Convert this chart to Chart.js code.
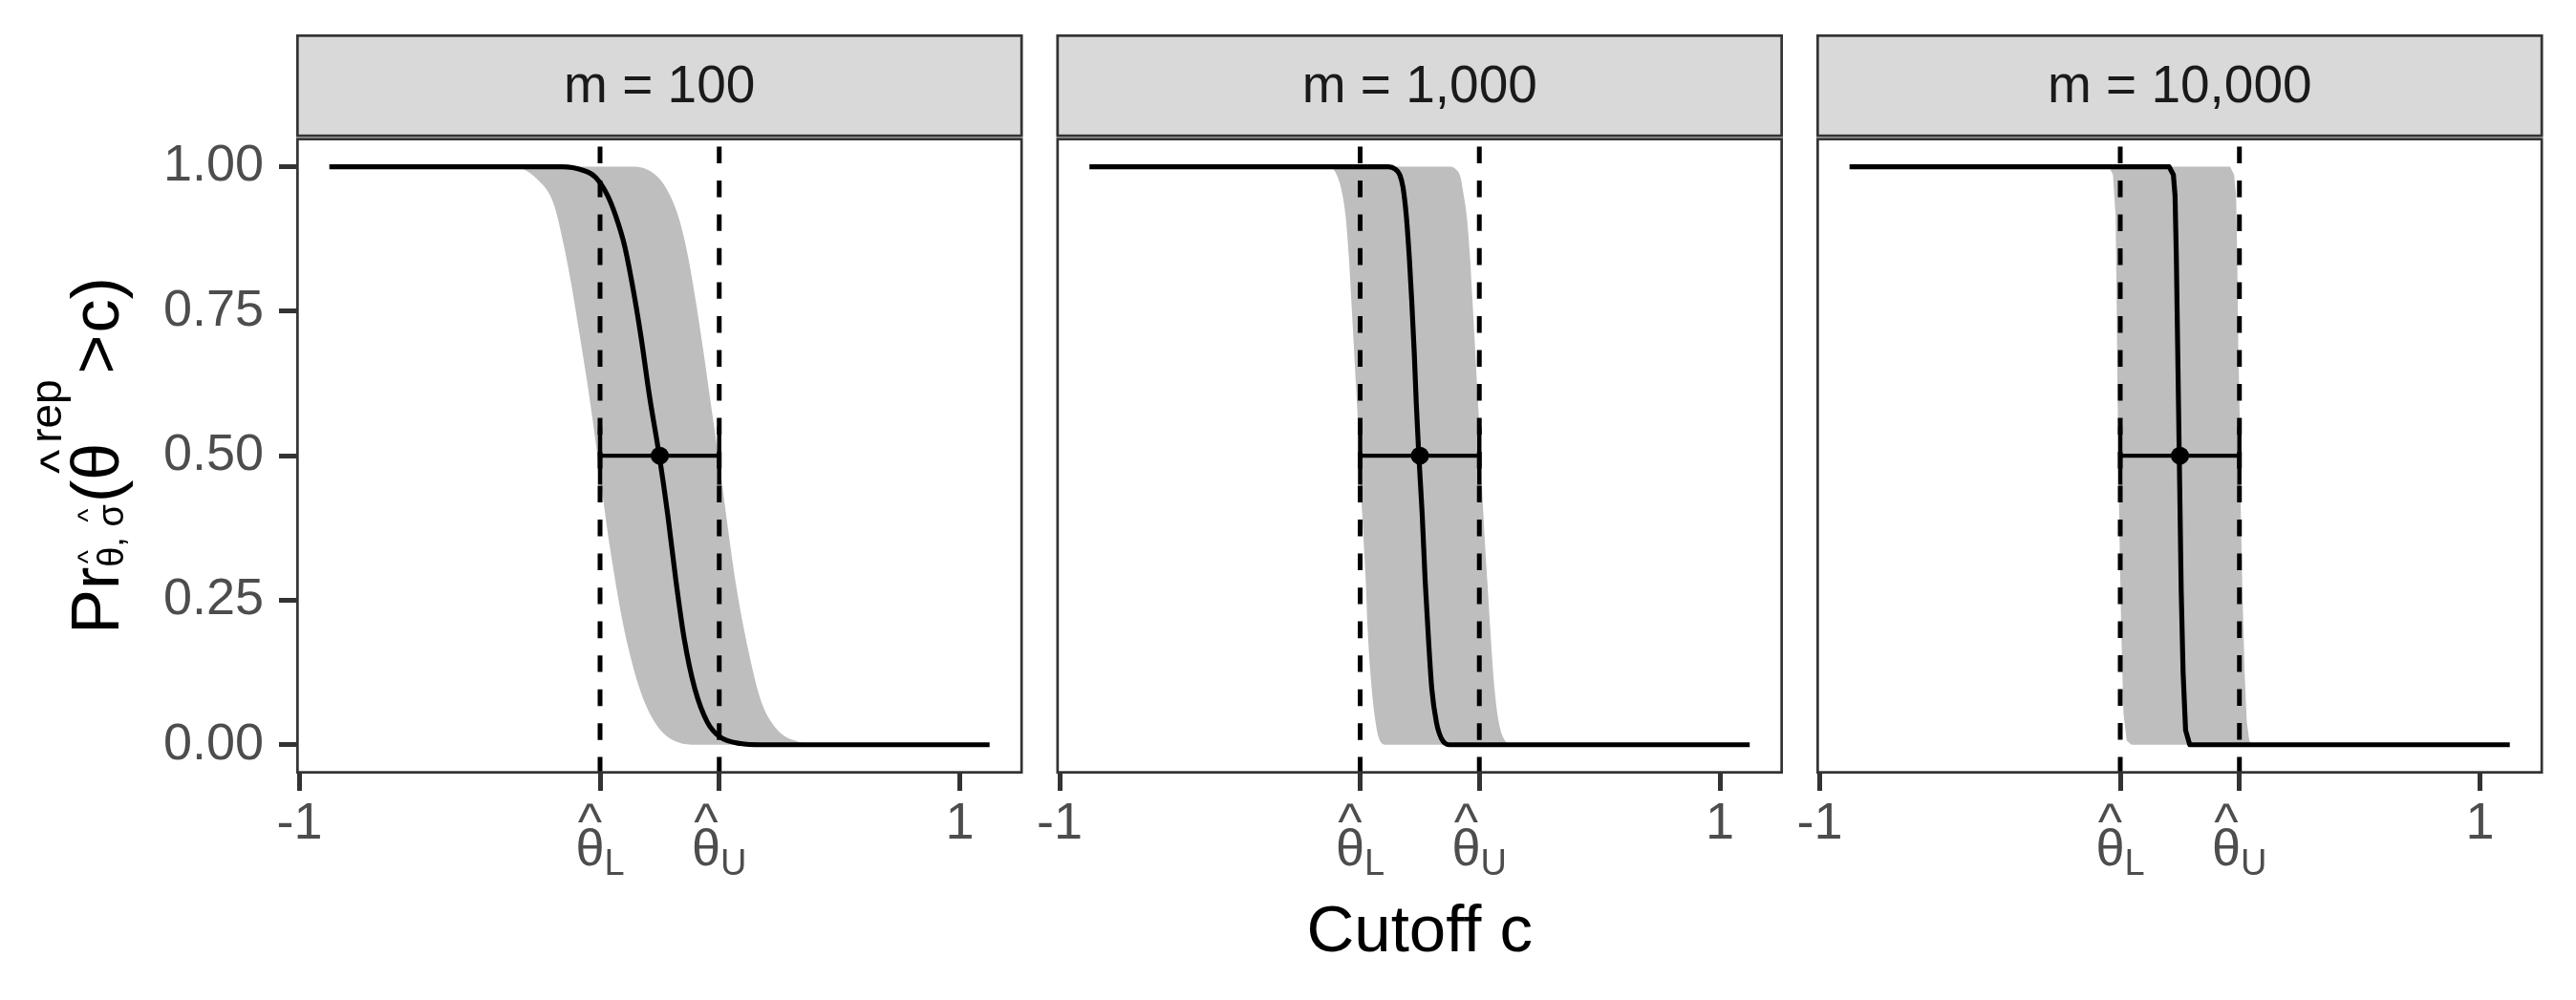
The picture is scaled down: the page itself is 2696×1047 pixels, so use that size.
<!DOCTYPE html>
<html lang="en">
<head>
  <meta charset="UTF-8">
  <title>Pr(theta rep > c) by m</title>
  <script src="https://cdn.jsdelivr.net/npm/chart.js"></script>
  <style>
    body { margin: 0; background: #fff; }
    #wrap { position: relative; width: 2696px; height: 1047px; }
    #wrap canvas { position: absolute; left: 0; top: 0; }
  </style>
</head>
<body>
<div id="wrap">
  <canvas id="c0" width="2696" height="1047"></canvas>
  <canvas id="c1" width="2696" height="1047"></canvas>
  <canvas id="c2" width="2696" height="1047"></canvas>
</div>
<script>
// facet labels
const stripLabels = ['m = 100', 'm = 1,000', 'm = 10,000'];

// interval and point estimate (same in every facet)
const thetaL = -0.09;
const thetaU = 0.271;
const thetaHat = 0.091;
const capHalf = 0.05;

// axis ticks
const yTicks = [0, 0.25, 0.5, 0.75, 1];
const xTicks = [-1, thetaL, thetaU, 1];
const xTickLabels = ['-1', '', '', '1'];
const thetaSubs = ['L', 'U'];

// Pr(theta^rep > c), [c, Pr]
const curve100 = [[-0.91, 1], [-0.205, 1], [-0.142, 0.994], [-0.104, 0.982], [-0.067, 0.95], [-0.042, 0.914],
  [-0.016, 0.864], [0.009, 0.792], [0.034, 0.706], [0.059, 0.606], [0.09, 0.498], [0.115, 0.398], [0.14, 0.283],
  [0.165, 0.183], [0.197, 0.097], [0.235, 0.039], [0.272, 0.014], [0.335, 0.002], [0.398, 0], [1.09, 0]];
const lower100 = [[-0.91, 1], [-0.355, 1], [-0.28, 0.978], [-0.23, 0.935], [-0.205, 0.878], [-0.18, 0.806],
  [-0.155, 0.72], [-0.129, 0.627], [-0.111, 0.556], [-0.086, 0.448], [-0.06, 0.341], [-0.016, 0.197],
  [0.034, 0.09], [0.084, 0.032], [0.147, 0.004], [0.2, 0], [1.09, 0]];
const upper100 = [[-0.91, 1], [0.009, 1], [0.071, 0.989], [0.109, 0.964], [0.147, 0.914], [0.172, 0.857],
  [0.197, 0.778], [0.222, 0.685], [0.247, 0.584], [0.272, 0.484], [0.297, 0.376], [0.322, 0.276], [0.36, 0.161],
  [0.398, 0.075], [0.448, 0.025], [0.511, 0.005], [0.586, 0], [1.09, 0]];

const curve1000 = [[-0.91, 1], [-0.004, 1], [0.016, 0.996], [0.03, 0.986], [0.04, 0.964], [0.05, 0.914],
  [0.059, 0.842], [0.066, 0.771], [0.074, 0.677], [0.08, 0.591], [0.088, 0.498], [0.098, 0.398], [0.107, 0.283],
  [0.117, 0.183], [0.127, 0.097], [0.141, 0.039], [0.156, 0.011], [0.18, 0], [1.09, 0]];
const lower1000 = [[-0.91, 1], [-0.182, 1], [-0.158, 0.982], [-0.144, 0.953], [-0.134, 0.914], [-0.124, 0.842],
  [-0.117, 0.771], [-0.11, 0.699], [-0.102, 0.613], [-0.095, 0.541], [-0.088, 0.448], [-0.081, 0.369],
  [-0.073, 0.283], [-0.067, 0.197], [-0.057, 0.111], [-0.047, 0.054], [-0.033, 0.011], [-0.013, 0], [1.09, 0]];
const upper1000 = [[-0.91, 1], [0.18, 1], [0.199, 0.996], [0.214, 0.982], [0.223, 0.953], [0.233, 0.914],
  [0.243, 0.842], [0.25, 0.771], [0.257, 0.699], [0.265, 0.613], [0.272, 0.541], [0.279, 0.448], [0.286, 0.369],
  [0.296, 0.276], [0.306, 0.183], [0.317, 0.097], [0.33, 0.039], [0.349, 0.007], [0.373, 0], [1.09, 0]];

const curve10000 = [[-0.91, 1], [0.058, 1], [0.071, 0.986], [0.076, 0.95], [0.08, 0.842], [0.0888, 0.5],
  [0.0946, 0.269], [0.1004, 0.125], [0.108, 0.025], [0.1206, 0], [1.09, 0]];
const lower10000 = [[-0.91, 1], [-0.124, 1], [-0.112, 0.986], [-0.104, 0.914], [-0.101, 0.771], [-0.0985, 0.627],
  [-0.0956, 0.484], [-0.0917, 0.341], [-0.0869, 0.197], [-0.0802, 0.054], [-0.0705, 0.007], [-0.056, 0], [1.09, 0]];
const upper10000 = [[-0.91, 1], [0.243, 1], [0.255, 0.986], [0.261, 0.95], [0.2645, 0.842], [0.2674, 0.699],
  [0.2722, 0.556], [0.2751, 0.412], [0.2799, 0.269], [0.2867, 0.125], [0.2934, 0.039], [0.3011, 0.007],
  [0.309, 0], [1.09, 0]];

const curves = [curve100, curve1000, curve10000];
const lowers = [lower100, lower1000, lower10000];
const uppers = [upper100, upper1000, upper10000];

// layout (pixels)
const W = 2696, H = 1047;
const panelLeft = [310, 1105.5, 1901];
const PANEL_W = 760.5;
const PLOT_TOP = 144.3, PLOT_BOTTOM = 810, XAXIS_H = 210;
const STRIP_TOP = 36, STRIP_H = 107.5;
const FONT = '"Liberation Sans", Arial, sans-serif';
const font = s => s + 'px ' + FONT;

Chart.defaults.font.family = FONT;

const pts = arr => arr.map(([x, y]) => ({ x, y }));

// strip on top of each panel + panel border
const stripPlugin = {
  id: 'strip',
  afterDraw(chart, args, opts) {
    const { ctx, chartArea: a } = chart;
    const w = a.right - a.left;
    ctx.save();
    ctx.fillStyle = '#D9D9D9';
    ctx.fillRect(a.left, STRIP_TOP, w, STRIP_H);
    ctx.strokeStyle = '#333333';
    ctx.lineWidth = 2.7;
    ctx.strokeRect(a.left + 1.35, STRIP_TOP + 1.35, w - 2.7, STRIP_H - 2.7);
    ctx.strokeRect(a.left + 1.35, a.top + 1.35, w - 2.7, a.bottom - a.top - 2.7);
    ctx.fillStyle = '#1A1A1A';
    ctx.font = font(55);
    ctx.textAlign = 'center';
    ctx.textBaseline = 'middle';
    ctx.fillText(opts.label, (a.left + a.right) / 2, 92);
    ctx.restore();
  }
};

// theta-hat_L / theta-hat_U tick labels
const thetaTickPlugin = {
  id: 'thetaTicks',
  afterDraw(chart) {
    const { ctx } = chart;
    const xs = chart.scales.x;
    ctx.save();
    ctx.fillStyle = '#4D4D4D';
    ctx.textBaseline = 'alphabetic';
    [thetaL, thetaU].forEach((v, i) => {
      const px = xs.getPixelForValue(v);
      ctx.font = font(54);
      const w1 = ctx.measureText('θ').width;
      ctx.font = font(38);
      const w2 = ctx.measureText(thetaSubs[i]).width;
      const x0 = px - (w1 + w2) / 2;
      ctx.font = font(54);
      ctx.textAlign = 'left';
      ctx.fillText('θ', x0, 906);
      ctx.textAlign = 'center';
      ctx.fillText('^', x0 + w1 / 2, 879);
      ctx.font = font(38);
      ctx.textAlign = 'left';
      ctx.fillText(thetaSubs[i], x0 + w1, 916);
    });
    ctx.restore();
  }
};

// rotated y title: Pr_{θ̂,σ̂}(θ̂^rep > c)
const yTitlePlugin = {
  id: 'yTitle',
  afterDraw(chart) {
    const ctx = chart.ctx;
    // text, size, baseline shift, hat, gap before
    const parts = [
      ['Pr', 70, 0, false, 0],
      ['θ', 38, 5, true, 0],
      [', ', 38, 5, false, 0],
      ['σ', 38, 5, true, 0],
      ['(', 70, 0, false, 2],
      ['θ', 70, 0, true, 0],
      ['rep', 46, -60, false, 0],
      ['>', 70, 0, false, 6],
      ['c', 70, 0, false, 2],
      [')', 70, 0, false, 0]
    ];
    let total = 0;
    const widths = parts.map(([t, s, , , g]) => {
      ctx.font = font(s);
      const w = ctx.measureText(t).width;
      total += w + g;
      return w;
    });
    ctx.save();
    ctx.translate(124, 477);
    ctx.rotate(-Math.PI / 2);
    ctx.fillStyle = '#000';
    ctx.textBaseline = 'alphabetic';
    let x = -total / 2;
    parts.forEach(([t, s, dy, hat, g], i) => {
      x += g;
      ctx.font = font(s);
      ctx.textAlign = 'left';
      ctx.fillText(t, x, dy);
      if (hat) {
        const big = s > 50;
        ctx.font = font(big ? 54 : 30);
        ctx.textAlign = 'center';
        ctx.fillText('^', x + widths[i] / 2, big ? -44 : -22);
      }
      x += widths[i];
    });
    ctx.restore();
  }
};

function makeChart(i) {
  const smooth = i < 2 ? 'monotone' : 'default';
  const line = (data, extra) => Object.assign({
    data: pts(data), borderColor: '#000', pointRadius: 0, fill: false,
    borderCapStyle: 'butt', borderJoinStyle: 'round', cubicInterpolationMode: smooth
  }, extra);

  const datasets = [
    line(uppers[i], { borderWidth: 0, backgroundColor: '#BEBEBE', fill: '+1', order: 6 }),
    line(lowers[i], { borderWidth: 0, order: 6 }),
    line([[thetaL, -0.05], [thetaL, 1.05]], { borderWidth: 5, borderDash: [17.5, 18], order: 5 }),
    line([[thetaU, -0.05], [thetaU, 1.05]], { borderWidth: 5, borderDash: [17.5, 18], order: 5 }),
    line(curves[i], { borderWidth: 5.2, order: 4 }),
    line([[thetaL, 0.5], [thetaU, 0.5]], { borderWidth: 4.3, order: 3 }),
    line([[thetaL, 0.5 - capHalf], [thetaL, 0.5 + capHalf]], { borderWidth: 4.5, order: 3 }),
    line([[thetaU, 0.5 - capHalf], [thetaU, 0.5 + capHalf]], { borderWidth: 4.5, order: 3 }),
    line([[thetaHat, 0.5]], { showLine: false, pointRadius: 9.5, pointBackgroundColor: '#000', pointBorderWidth: 0, order: 1 })
  ];

  const plugins = [stripPlugin, thetaTickPlugin];
  if (i === 0) plugins.push(yTitlePlugin);

  return new Chart(document.getElementById('c' + i), {
    type: 'line',
    data: { datasets },
    plugins,
    options: {
      responsive: false,
      animation: false,
      devicePixelRatio: 1,
      events: [],
      layout: {
        padding: {
          left: panelLeft[i] - (i === 0 ? 310 : 0),
          right: W - panelLeft[i] - PANEL_W,
          top: PLOT_TOP,
          bottom: H - PLOT_BOTTOM - XAXIS_H
        }
      },
      scales: {
        x: {
          type: 'linear',
          min: -1.0104,
          max: 1.1907,
          bounds: 'data',
          afterBuildTicks: s => { s.ticks = xTicks.map(v => ({ value: v })); },
          afterFit: s => { s.height = XAXIS_H; },
          border: { display: false },
          grid: { drawOnChartArea: false, drawTicks: true, tickLength: 18, tickWidth: 5, tickColor: '#333333' },
          ticks: {
            autoSkip: false, maxRotation: 0, minRotation: 0, padding: 3,
            color: '#4D4D4D', font: { size: 54 },
            callback: (v, idx) => xTickLabels[idx]
          },
          title: {
            display: i === 1,
            text: 'Cutoff c',
            color: '#000',
            font: { size: 69 },
            padding: { top: 0, bottom: 2 }
          }
        },
        y: {
          display: i === 0,
          min: -0.05,
          max: 1.05,
          bounds: 'data',
          afterBuildTicks: s => { s.ticks = yTicks.map(v => ({ value: v })); },
          afterFit: s => { if (i === 0) s.width = 310; },
          border: { display: false },
          grid: { drawOnChartArea: false, drawTicks: true, tickLength: 18, tickWidth: 5, tickColor: '#333333' },
          ticks: {
            padding: 16, color: '#4D4D4D', font: { size: 54 },
            callback: v => v.toFixed(2)
          }
        }
      },
      plugins: {
        legend: { display: false },
        tooltip: { enabled: false },
        strip: { label: stripLabels[i] }
      }
    }
  });
}

[0, 1, 2].forEach(makeChart);
</script>
</body>
</html>
